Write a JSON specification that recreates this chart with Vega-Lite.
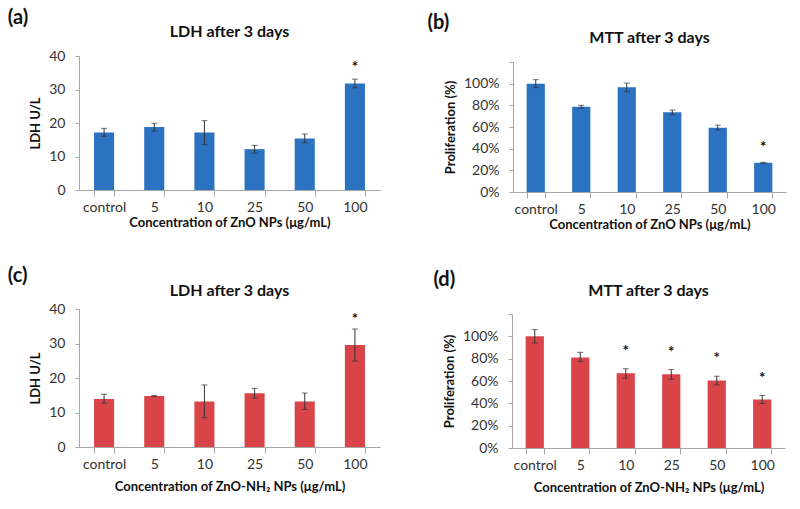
{
  "$schema": "https://vega.github.io/schema/vega-lite/v6.json",
  "background": "white",
  "padding": {"left": 7, "top": 8, "right": 5, "bottom": 5},
  "config": {
    "font": "Lato",
    "view": {"stroke": null},
    "axis": {"grid": false, "labelOverlap": false, "domainColor": "#a6a6a6", "tickColor": "#a6a6a6", "labelColor": "#333333", "titleColor": "#111111", "labelFontSize": 14, "titleFontSize": 13, "titleFontWeight": "bold", "labelFont": "Lato", "titleFont": "Lato"},
    "axisX": {"labelAngle": 0, "tickBand": "extent", "tickSize": 6, "labelPadding": 4, "titlePadding": 2},
    "axisY": {"tickSize": 4, "labelPadding": 10, "titlePadding": 6},
    "title": {"font": "Lato", "color": "#111111"}
  },
  "datasets": {
    "a": [
      {"conc": "control", "mean": 17.2, "lo": 16.0, "hi": 18.4, "sig": ""},
      {"conc": "5", "mean": 18.8, "lo": 17.6, "hi": 19.9, "sig": ""},
      {"conc": "10", "mean": 17.2, "lo": 13.6, "hi": 20.7, "sig": ""},
      {"conc": "25", "mean": 12.2, "lo": 11.0, "hi": 13.3, "sig": ""},
      {"conc": "50", "mean": 15.4, "lo": 14.1, "hi": 16.7, "sig": ""},
      {"conc": "100", "mean": 31.8, "lo": 30.5, "hi": 33.1, "sig": "*"}
    ],
    "b": [
      {"conc": "control", "mean": 1.0, "lo": 0.963, "hi": 1.037, "sig": ""},
      {"conc": "5", "mean": 0.787, "lo": 0.775, "hi": 0.8, "sig": ""},
      {"conc": "10", "mean": 0.966, "lo": 0.926, "hi": 1.006, "sig": ""},
      {"conc": "25", "mean": 0.736, "lo": 0.713, "hi": 0.756, "sig": ""},
      {"conc": "50", "mean": 0.594, "lo": 0.571, "hi": 0.617, "sig": ""},
      {"conc": "100", "mean": 0.269, "lo": 0.264, "hi": 0.274, "sig": "*"}
    ],
    "c": [
      {"conc": "control", "mean": 13.9, "lo": 12.75, "hi": 15.3, "sig": ""},
      {"conc": "5", "mean": 14.8, "lo": 14.6, "hi": 14.95, "sig": ""},
      {"conc": "10", "mean": 13.2, "lo": 8.5, "hi": 18.0, "sig": ""},
      {"conc": "25", "mean": 15.6, "lo": 14.2, "hi": 17.0, "sig": ""},
      {"conc": "50", "mean": 13.2, "lo": 10.9, "hi": 15.65, "sig": ""},
      {"conc": "100", "mean": 29.6, "lo": 24.9, "hi": 34.2, "sig": "*"}
    ],
    "d": [
      {"conc": "control", "mean": 1.0, "lo": 0.94, "hi": 1.06, "sig": ""},
      {"conc": "5", "mean": 0.81, "lo": 0.774, "hi": 0.857, "sig": ""},
      {"conc": "10", "mean": 0.67, "lo": 0.625, "hi": 0.71, "sig": "*"},
      {"conc": "25", "mean": 0.66, "lo": 0.616, "hi": 0.702, "sig": "*"},
      {"conc": "50", "mean": 0.604, "lo": 0.565, "hi": 0.643, "sig": "*"},
      {"conc": "100", "mean": 0.435, "lo": 0.399, "hi": 0.47, "sig": "*"}
    ]
  },
  "spacing": 35,
  "vconcat": [
    {
      "spacing": 47,
      "hconcat": [
        {
          "title": {"text": "(a)", "anchor": "start", "frame": "bounds", "fontSize": 20, "fontWeight": "bold", "dx": -22, "offset": -4},
          "vconcat": [
            {
              "title": {"text": "LDH after 3 days", "fontSize": 16, "fontWeight": "bold", "baseline": "alphabetic", "offset": -4},
              "width": 301, "height": 134,
              "data": {"name": "a"},
              "encoding": {
                "x": {"field": "conc", "type": "nominal", "sort": ["control", "5", "10", "25", "50", "100"], "scale": {"paddingInner": 0.6, "paddingOuter": 0.3}, "axis": {"title": "Concentration of ZnO NPs (μg/mL)"}}
              },
              "layer": [
                {"mark": {"type": "bar", "color": "#2b72c1"}, "encoding": {"y": {"field": "mean", "type": "quantitative", "title": "LDH U/L", "scale": {"domain": [0, 40]}, "axis": {"values": [0, 10, 20, 30, 40]}}}},
                {"mark": {"type": "errorbar", "ticks": {"size": 6, "color": "#333333"}, "rule": {"color": "#333333"}}, "encoding": {"y": {"field": "lo", "type": "quantitative", "title": "LDH U/L", "axis": {"values": [0, 10, 20, 30, 40]}}, "y2": {"field": "hi"}}},
                {"mark": {"type": "text", "fontSize": 15, "fontWeight": "bold", "baseline": "middle", "dy": -12, "color": "#111111"}, "encoding": {"y": {"field": "hi", "type": "quantitative", "title": "LDH U/L", "axis": {"values": [0, 10, 20, 30, 40]}}, "text": {"field": "sig"}}}
              ]
            }
          ]
        },
        {
          "title": {"text": "(b)", "anchor": "start", "frame": "bounds", "fontSize": 20, "fontWeight": "bold", "dx": -17, "offset": -3},
          "vconcat": [
            {
              "title": {"text": "MTT after 3 days", "fontSize": 16, "fontWeight": "bold", "baseline": "alphabetic", "offset": -4},
              "width": 273, "height": 136,
              "data": {"name": "b"},
              "encoding": {
                "x": {"field": "conc", "type": "nominal", "sort": ["control", "5", "10", "25", "50", "100"], "scale": {"paddingInner": 0.6, "paddingOuter": 0.3}, "axis": {"title": "Concentration of ZnO NPs (μg/mL)"}}
              },
              "layer": [
                {"mark": {"type": "bar", "color": "#2b72c1"}, "encoding": {"y": {"field": "mean", "type": "quantitative", "title": "Proliferation (%)", "scale": {"domain": [0, 1.2], "range": [136, 6]}, "axis": {"values": [0, 0.2, 0.4, 0.6, 0.8, 1.0, 1.2], "format": ".0%", "labelExpr": "datum.value > 1.1 ? '' : datum.label"}}}},
                {"mark": {"type": "errorbar", "ticks": {"size": 6, "color": "#333333"}, "rule": {"color": "#333333"}}, "encoding": {"y": {"field": "lo", "type": "quantitative", "title": "Proliferation (%)", "axis": {"values": [0, 0.2, 0.4, 0.6, 0.8, 1.0, 1.2], "format": ".0%", "labelExpr": "datum.value > 1.1 ? '' : datum.label"}}, "y2": {"field": "hi"}}},
                {"mark": {"type": "text", "fontSize": 15, "fontWeight": "bold", "baseline": "middle", "dy": -15, "color": "#111111"}, "encoding": {"y": {"field": "hi", "type": "quantitative", "title": "Proliferation (%)", "axis": {"values": [0, 0.2, 0.4, 0.6, 0.8, 1.0, 1.2], "format": ".0%", "labelExpr": "datum.value > 1.1 ? '' : datum.label"}}, "text": {"field": "sig"}}}
              ]
            }
          ]
        }
      ]
    },
    {
      "spacing": 53,
      "hconcat": [
        {
          "title": {"text": "(c)", "anchor": "start", "frame": "bounds", "fontSize": 20, "fontWeight": "bold", "dx": -22, "offset": -3},
          "vconcat": [
            {
              "title": {"text": "LDH after 3 days", "fontSize": 16, "fontWeight": "bold", "baseline": "alphabetic", "offset": -10},
              "width": 301, "height": 138,
              "data": {"name": "c"},
              "encoding": {
                "x": {"field": "conc", "type": "nominal", "sort": ["control", "5", "10", "25", "50", "100"], "scale": {"paddingInner": 0.6, "paddingOuter": 0.3}, "axis": {"title": "Concentration of ZnO-NH₂ NPs (μg/mL)", "titlePadding": 9}}
              },
              "layer": [
                {"mark": {"type": "bar", "color": "#d94448"}, "encoding": {"y": {"field": "mean", "type": "quantitative", "title": "LDH U/L", "scale": {"domain": [0, 40]}, "axis": {"values": [0, 10, 20, 30, 40]}}}},
                {"mark": {"type": "errorbar", "ticks": {"size": 6, "color": "#333333"}, "rule": {"color": "#333333"}}, "encoding": {"y": {"field": "lo", "type": "quantitative", "title": "LDH U/L", "axis": {"values": [0, 10, 20, 30, 40]}}, "y2": {"field": "hi"}}},
                {"mark": {"type": "text", "fontSize": 15, "fontWeight": "bold", "baseline": "middle", "dy": -10, "color": "#111111"}, "encoding": {"y": {"field": "hi", "type": "quantitative", "title": "LDH U/L", "axis": {"values": [0, 10, 20, 30, 40]}}, "text": {"field": "sig"}}}
              ]
            }
          ]
        },
        {
          "title": {"text": "(d)", "anchor": "start", "frame": "bounds", "fontSize": 20, "fontWeight": "bold", "dx": -10, "offset": -7},
          "vconcat": [
            {
              "title": {"text": "MTT  after 3 days", "fontSize": 16, "fontWeight": "bold", "baseline": "alphabetic", "offset": -7},
              "width": 273, "height": 139,
              "data": {"name": "d"},
              "encoding": {
                "x": {"field": "conc", "type": "nominal", "sort": ["control", "5", "10", "25", "50", "100"], "scale": {"paddingInner": 0.6, "paddingOuter": 0.3}, "axis": {"title": "Concentration of ZnO-NH₂ NPs (μg/mL)", "titlePadding": 9}}
              },
              "layer": [
                {"mark": {"type": "bar", "color": "#d94448"}, "encoding": {"y": {"field": "mean", "type": "quantitative", "title": "Proliferation (%)", "scale": {"domain": [0, 1.2], "range": [139, 5]}, "axis": {"values": [0, 0.2, 0.4, 0.6, 0.8, 1.0, 1.2], "format": ".0%", "labelExpr": "datum.value > 1.1 ? '' : datum.label"}}}},
                {"mark": {"type": "errorbar", "ticks": {"size": 6, "color": "#333333"}, "rule": {"color": "#333333"}}, "encoding": {"y": {"field": "lo", "type": "quantitative", "title": "Proliferation (%)", "axis": {"values": [0, 0.2, 0.4, 0.6, 0.8, 1.0, 1.2], "format": ".0%", "labelExpr": "datum.value > 1.1 ? '' : datum.label"}}, "y2": {"field": "hi"}}},
                {"mark": {"type": "text", "fontSize": 15, "fontWeight": "bold", "baseline": "middle", "dy": -18, "color": "#111111"}, "encoding": {"y": {"field": "hi", "type": "quantitative", "title": "Proliferation (%)", "axis": {"values": [0, 0.2, 0.4, 0.6, 0.8, 1.0, 1.2], "format": ".0%", "labelExpr": "datum.value > 1.1 ? '' : datum.label"}}, "text": {"field": "sig"}}}
              ]
            }
          ]
        }
      ]
    }
  ]
}
